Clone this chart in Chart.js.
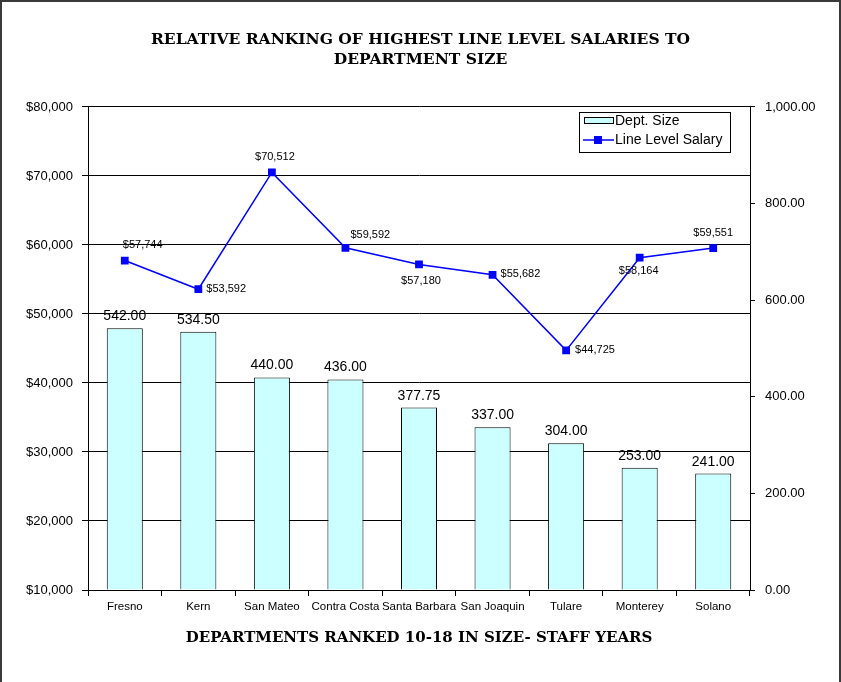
<!DOCTYPE html>
<html>
<head>
<meta charset="utf-8">
<script src="https://cdn.jsdelivr.net/npm/chart.js@4.4.1/dist/chart.umd.min.js"></script>
<style>
  body { margin: 0; background: #fff; }
  #box { position: relative; width: 841px; height: 682px; }
  #frame { position: absolute; left: 0; top: 0; width: 841px; height: 700px; box-sizing: border-box;
           border: 2px solid #3a3a3a; pointer-events: none; }
</style>
</head>
<body>
<div id="box">
  <canvas id="myChart"></canvas>
  <div id="frame"></div>
</div>
<script>
var departments = ["Fresno", "Kern", "San Mateo", "Contra Costa", "Santa Barbara", "San Joaquin", "Tulare", "Monterey", "Solano"];
var deptSize = [542.00, 534.50, 440.00, 436.00, 377.75, 337.00, 304.00, 253.00, 241.00];
var lineSalary = [57744, 53592, 70512, 59592, 57180, 55682, 44725, 58164, 59551];
var salaryTicks = [10000, 20000, 30000, 40000, 50000, 60000, 70000, 80000];
var sizeTicks = [0, 200, 400, 600, 800, 1000];

// where each salary label sits next to its marker: [dx, dy, align]
var salaryLabelPos = [
  [-2, -16, 'left'], [8, 0, 'left'], [3, -15, 'center'], [5, -13, 'left'], [2, 17, 'center'],
  [8, -1, 'left'], [9, 0, 'left'], [-1, 13, 'center'], [0, -15, 'center']
];

var sans = "'Liberation Sans', Arial, sans-serif";
var serif = "'DejaVu Serif', 'Liberation Serif', serif";

var valueLabels = {
  id: 'valueLabels',
  afterDatasetsDraw: function(chart) {
    var ctx = chart.ctx;
    ctx.save();
    ctx.fillStyle = '#000';
    // bar values
    ctx.font = '14px ' + sans;
    ctx.textAlign = 'center';
    ctx.textBaseline = 'alphabetic';
    chart.getDatasetMeta(0).data.forEach(function(bar, i) {
      ctx.fillText(deptSize[i].toFixed(2), bar.x, bar.y - 8);
    });
    // salary values
    ctx.font = '11px ' + sans;
    ctx.textBaseline = 'middle';
    chart.getDatasetMeta(1).data.forEach(function(pt, i) {
      var p = salaryLabelPos[i];
      ctx.textAlign = p[2];
      ctx.fillText('$' + lineSalary[i].toLocaleString('en-US'), pt.x + p[0], pt.y + p[1]);
    });
    ctx.restore();
  }
};

// legend box in the top right corner of the plot
var boxLegend = {
  id: 'boxLegend',
  afterDraw: function(chart) {
    var ctx = chart.ctx;
    var x = 579, y = 112, w = 151, h = 40;
    ctx.save();
    ctx.fillStyle = '#fff';
    ctx.fillRect(x, y, w, h);
    ctx.strokeStyle = '#000';
    ctx.lineWidth = 1;
    ctx.strokeRect(x + 0.5, y + 0.5, w, h);
    ctx.fillStyle = '#ccffff';
    ctx.fillRect(x + 5, y + 5, 29, 6);
    ctx.strokeRect(x + 5.5, y + 5.5, 29, 6);
    ctx.strokeStyle = '#0000ff';
    ctx.lineWidth = 1.5;
    ctx.beginPath();
    ctx.moveTo(x + 4, y + 28);
    ctx.lineTo(x + 35, y + 28);
    ctx.stroke();
    ctx.fillStyle = '#0000ff';
    ctx.fillRect(x + 15, y + 24, 8, 8);
    ctx.fillStyle = '#000';
    ctx.font = '14px ' + sans;
    ctx.textAlign = 'left';
    ctx.textBaseline = 'middle';
    ctx.fillText('Dept. Size', x + 36, y + 9);
    ctx.fillText('Line Level Salary', x + 36, y + 28);
    ctx.restore();
  }
};

var ctx = document.getElementById("myChart").getContext('2d');
var myChart = new Chart(ctx, {
  data: {
    labels: departments,
    datasets: [{
      type: 'bar',
      label: 'Dept. Size',
      data: deptSize,
      yAxisID: 'y1',
      backgroundColor: '#ccffff',
      borderColor: '#000',
      borderWidth: 1,
      barPercentage: 0.49,
      categoryPercentage: 1,
      order: 2
    }, {
      type: 'line',
      label: 'Line Level Salary',
      data: lineSalary,
      yAxisID: 'y',
      borderColor: '#0000ff',
      borderWidth: 1.5,
      backgroundColor: '#0000ff',
      pointStyle: 'rect',
      pointRadius: 5.5,
      pointBorderWidth: 0,
      tension: 0,
      order: 1
    }]
  },
  options: {
    responsive: true,
    maintainAspectRatio: false,
    animation: false,
    layout: { padding: { top: 30, bottom: 28, left: 0, right: 0 } },
    plugins: {
      legend: { display: false },
      tooltip: { enabled: false },
      title: {
        display: true,
        text: ['RELATIVE RANKING OF HIGHEST LINE LEVEL SALARIES TO', 'DEPARTMENT SIZE'],
        color: '#000',
        font: { family: serif, weight: 'bold', size: 15.5, lineHeight: 1.29 },
        padding: { top: 0, bottom: 37 }
      }
    },
    scales: {
      x: {
        grid: { offset: true, drawOnChartArea: false, tickLength: 6, color: '#000' },
        border: { color: '#000', width: 1 },
        ticks: { color: '#000', font: { family: sans, size: 11.5 }, padding: 4, maxRotation: 0, autoSkip: false },
        title: {
          display: true,
          text: 'DEPARTMENTS RANKED 10-18 IN SIZE- STAFF YEARS',
          color: '#000',
          font: { family: serif, weight: 'bold', size: 15 },
          padding: { top: 0, bottom: 7 }
        },
        afterFit: function(scale) { scale.height = 64; }
      },
      y: {
        position: 'left',
        min: 10000,
        max: 80000,
        afterBuildTicks: function(scale) {
          scale.ticks = salaryTicks.map(function(v) { return { value: v }; });
        },
        grid: { color: '#000', lineWidth: 1, tickLength: 6 },
        border: { color: '#000', width: 1 },
        ticks: {
          color: '#000',
          font: { family: sans, size: 13 },
          padding: 9,
          callback: function(v) { return '$' + v.toLocaleString('en-US'); }
        },
        afterFit: function(scale) { scale.width = 88; }
      },
      y1: {
        position: 'right',
        min: 0,
        max: 1000,
        afterBuildTicks: function(scale) {
          scale.ticks = sizeTicks.map(function(v) { return { value: v }; });
        },
        grid: { drawOnChartArea: false, color: '#000', tickLength: 5 },
        border: { color: '#000', width: 1 },
        ticks: {
          color: '#000',
          font: { family: sans, size: 13 },
          padding: 10,
          callback: function(v) {
            return v.toLocaleString('en-US', { minimumFractionDigits: 2, maximumFractionDigits: 2 });
          }
        },
        afterFit: function(scale) { scale.width = 91; }
      }
    }
  },
  plugins: [valueLabels, boxLegend]
});
</script>
</body>
</html>
